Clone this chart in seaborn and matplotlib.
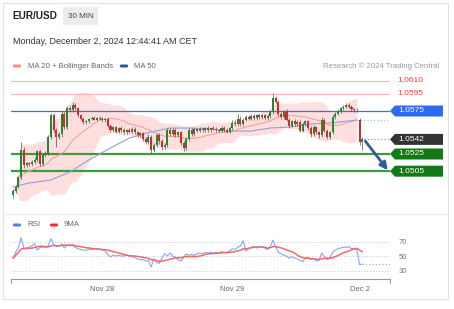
import numpy as np
import pandas as pd
import matplotlib
matplotlib.use("Agg")
import matplotlib.pyplot as plt
import seaborn as sns
from matplotlib.patches import Polygon, Rectangle, FancyBboxPatch
from matplotlib.transforms import blended_transform_factory

# ---------------- data ----------------
symbol = "EUR/USD"
timeframe = "30 MIN"
timestamp = "Monday, December 2, 2024 12:44:41 AM CET"
credit = "Research \u00a9 2024 Trading Central"

first_open = 1.0477
closes = [
    1.0482, 1.0487, 1.0498, 1.0530, 1.0512, 1.0514, 1.0513, 1.0516, 1.0518, 1.0528,
    1.0513, 1.0524, 1.0526, 1.0545, 1.0570, 1.0553, 1.0545, 1.0548, 1.0572, 1.0556,
    1.0578, 1.0576, 1.0582, 1.0578, 1.0570, 1.0566, 1.0562, 1.0563, 1.0566, 1.0567,
    1.0565, 1.0567, 1.0566, 1.0564, 1.0566, 1.0558, 1.0553, 1.0556, 1.0551, 1.0555,
    1.0553, 1.0550, 1.0553, 1.0551, 1.0554, 1.0550, 1.0547, 1.0549, 1.0543, 1.0539,
    1.0545, 1.0530, 1.0535, 1.0547, 1.0540, 1.0533, 1.0535, 1.0553, 1.0548, 1.0553,
    1.0547, 1.0550, 1.0538, 1.0532, 1.0542, 1.0553, 1.0548, 1.0554, 1.0552, 1.0554,
    1.0553, 1.0555, 1.0553, 1.0555, 1.0554, 1.0553, 1.0552, 1.0555, 1.0553, 1.0551,
    1.0555, 1.0561, 1.0560, 1.0566, 1.0560, 1.0565, 1.0568, 1.0566, 1.0569, 1.0567,
    1.0570, 1.0568, 1.0570, 1.0567, 1.0569, 1.0574, 1.0590, 1.0586, 1.0572, 1.0568,
    1.0574, 1.0565, 1.0558, 1.0563, 1.0560, 1.0562, 1.0552, 1.0560, 1.0563, 1.0555,
    1.0548, 1.0556, 1.0550, 1.0547, 1.0565, 1.0552, 1.0545, 1.0550, 1.0568, 1.0572,
    1.0575, 1.0578, 1.0580, 1.0582, 1.0580, 1.0577, 1.0576, 1.0576, 1.0539, 1.0542,
]
gap_opens = {128: 1.0565}
# wick extensions beyond the body, in pips
wick_up = [
    2, 2, 3, 9, 3, 2, 2, 2, 3, 2,  2, 2, 3, 2, 3, 3, 2, 2, 3, 2,
    3, 3, 3, 2, 2, 2, 2, 2, 1, 2,  2, 1, 2, 2, 1, 2, 2, 2, 2, 1,
    2, 2, 1, 2, 2, 2, 2, 2, 2, 2,  3, 2, 3, 2, 2, 2, 3, 2, 2, 2,
    2, 2, 2, 2, 3, 2, 2, 2, 1, 2,  2, 1, 2, 1, 2, 2, 1, 2, 2, 2,
    2, 3, 3, 6, 3, 2, 2, 2, 2, 2,  2, 2, 2, 2, 2, 2, 6, 3, 2, 2,
    2, 3, 2, 2, 3, 2, 3, 2, 2, 2,  2, 3, 2, 2, 3, 2, 2, 2, 2, 2,
    2, 2, 2, 2, 2, 2, 2, 2, 2, 3,
]
wick_dn = [
    3, 2, 2, 2, 3, 2, 2, 2, 3, 2,  2, 2, 2, 2, 3, 2, 12, 2, 3, 2,
    2, 2, 2, 2, 2, 2, 2, 2, 2, 2,  1, 2, 2, 2, 2, 2, 2, 2, 2, 2,
    2, 2, 2, 2, 2, 2, 2, 2, 3, 2,  2, 4, 3, 2, 3, 3, 2, 2, 2, 2,
    2, 2, 2, 3, 2, 2, 2, 2, 2, 2,  2, 2, 2, 2, 1, 2, 2, 2, 2, 2,
    2, 2, 2, 2, 2, 2, 2, 2, 2, 2,  2, 2, 2, 2, 2, 2, 2, 2, 3, 2,
    2, 2, 3, 2, 2, 3, 2, 2, 2, 2,  3, 2, 2, 3, 2, 2, 3, 2, 2, 2,
    2, 2, 2, 2, 2, 2, 2, 2, 3, 9,
]
# MA 50 (it includes history before the first candle)
ma50_idx = [0, 6, 14, 21, 28, 36, 43, 51, 58, 65, 73, 80, 88, 95, 102, 110, 117, 124, 127]
ma50_val = [1.04866, 1.04913, 1.04948, 1.05041, 1.05180, 1.05320, 1.05436, 1.05506,
            1.05552, 1.05552, 1.05541, 1.05517, 1.05517, 1.05552, 1.05564, 1.05599,
            1.05610, 1.05634, 1.05645]
rsi = [
    47, 55, 62, 75, 61, 61, 62, 64, 67, 58,
    62, 62, 63, 64, 74, 66, 63, 64, 66, 61,
    65, 64, 65, 62, 60, 59, 58, 58, 59, 59,
    60, 60, 60, 58, 57, 52, 49, 51, 50, 51,
    50, 50, 51, 50, 49, 48, 46, 45, 45, 43,
    44, 35, 46, 41, 40, 47, 53, 50, 54, 50,
    48, 45, 43, 48, 53, 51, 52, 51, 53, 54,
    53, 55, 54, 55, 54, 55, 54, 56, 55, 55,
    57, 60, 59, 62, 64, 71, 57, 60, 62, 63,
    61, 63, 62, 61, 59, 63, 72, 63, 55, 53,
    51, 50, 47, 49, 47, 46, 44, 42, 48, 48,
    45, 47, 43, 44, 54, 49, 45, 47, 55, 58,
    60, 61, 62, 62, 63, 60, 60, 58, 38, 39,
]
date_ticks = [33, 81, 128]
date_labels = ["Nov 28", "Nov 29", "Dec 2"]
resistance_levels = [1.0610, 1.0595]
pivot_level = 1.0575
last_price = 1.0542
support_levels = [1.0525, 1.0505]
rsi_ticks = [30, 50, 70]

# ---------------- derived ----------------
n = len(closes)
idx = np.arange(n)
opens = [first_open] + closes[:-1]
for k, v in gap_opens.items():
    opens[k] = v
pip = 0.0001
highs = [max(o, c) + u * pip for o, c, u in zip(opens, closes, wick_up)]
lows = [min(o, c) - d * pip for o, c, d in zip(opens, closes, wick_dn)]

s = pd.Series(closes)
ma20 = s.rolling(20, min_periods=1).mean()
sd20 = s.rolling(20, min_periods=2).std(ddof=0).fillna(0)
bb_up = ma20 + 2 * sd20
bb_lo = ma20 - 2 * sd20
rsi_ma = pd.Series(rsi).rolling(9, min_periods=1).mean()
ind_end = n - 2  # indicators drawn up to the candle before the gap

# ---------------- figure ----------------
sns.set_theme(style="white")
plt.rcParams['font.family'] = ['Liberation Sans', 'DejaVu Sans']

W, H = 454, 309
fig = plt.figure(figsize=(W / 100, H / 100), dpi=100)
fig.patch.set_facecolor("white")


def box(x0, y0, x1, y1):
    return [x0 / W, 1 - y1 / H, (x1 - x0) / W, (y1 - y0) / H]


bg = fig.add_axes([0, 0, 1, 1])
bg.set_xlim(0, W)
bg.set_ylim(H, 0)
bg.axis("off")
bg.add_patch(Rectangle((3, 3), 445, 296, fill=False, ec="#e2e2e2", lw=0.8))
bg.plot([3, 448], [214, 214], color="#ececec", lw=0.8)

bg.text(12, 16, symbol, fontsize=7.2, fontweight="bold", color="#222222", va="center")
bg.add_patch(Rectangle((63, 7), 35, 18, fc="#ececec", ec="none"))
bg.text(80.5, 16, timeframe, fontsize=5.8, color="#444444", ha="center", va="center")
bg.text(13, 41, timestamp, fontsize=6.5, color="#333333", va="center")


def legend_mark(x, y, color):
    bg.add_patch(FancyBboxPatch((x, y - 1.5), 8, 3,
                                boxstyle="round,pad=0,rounding_size=1.2",
                                fc=color, ec="none"))


legend_mark(13, 66, "#ff8a8a")
bg.text(28, 66, "MA 20 + Bollinger Bands", fontsize=5.6, color="#666666", va="center")
legend_mark(120, 66, "#2b5797")
bg.text(134, 66, "MA 50", fontsize=5.6, color="#666666", va="center")
bg.text(439, 66, credit, fontsize=5.6, color="#9a9a9a", va="center", ha="right")

legend_mark(13, 225, "#5b7fe0")
bg.text(27, 225, "RSI", fontsize=5.6, color="#666666", va="center")
legend_mark(50, 225, "#ff2a2a")
bg.text(64, 225, "9MA", fontsize=5.6, color="#666666", va="center")

# ---------------- price panel ----------------
xlim = (-0.7386, 139.22)
ax = fig.add_axes(box(11, 75, 390, 200))
ax.set_xlim(*xlim)
ax.set_ylim(1.047151, 1.061686)
ax.axis("off")

ax.fill_between(idx[:ind_end], bb_lo[:ind_end], bb_up[:ind_end],
                color="#ffd9d9", alpha=0.85, lw=0, zorder=1)
sns.lineplot(x=idx[:ind_end], y=ma20[:ind_end], ax=ax, color="#f5a0a0", lw=0.8, zorder=2)
sns.lineplot(x=ma50_idx, y=ma50_val, ax=ax, color="#8ea2d2", lw=0.8, zorder=2)

for r in resistance_levels:
    ax.axhline(r, color="#ffb0b0", lw=0.8, zorder=1)
ax.axhline(pivot_level, color="#3f6fe0", lw=0.9, zorder=1)
for sl in support_levels:
    ax.axhline(sl, color="#3c9c3c", lw=1.6, zorder=1)
ax.plot([ma50_idx[-1], xlim[1]], [ma50_val[-1]] * 2, ls=(0, (1, 2)),
        color="#9fb3e0", lw=0.8, zorder=1)
ax.plot([n - 0.5, xlim[1]], [last_price] * 2, ls=(0, (1, 2)),
        color="#888888", lw=0.8, zorder=1)

up_c, dn_c = "#208a30", "#d42a2a"
ax.vlines(idx, lows, highs, color="#555555", lw=0.5, zorder=3)
for i in range(n):
    o, c = opens[i], closes[i]
    col = up_c if c >= o else dn_c
    h = max(abs(c - o), 0.00006)
    ax.bar(i, h, bottom=min(o, c), width=0.75, color=col, lw=0, zorder=4)

ax.annotate("", xy=(138.4, support_levels[1] + 0.00012),
            xytext=(n + 0.1, last_price - 0.0002),
            arrowprops=dict(arrowstyle="-|>", color="#2f5d9e", lw=2.0,
                            mutation_scale=11, shrinkA=0, shrinkB=0),
            annotation_clip=False, zorder=6)

tr = blended_transform_factory(ax.transAxes, ax.transData)
px_w = 379.0
hh = 5.5 / 8600


def tag(price, fc, text):
    xt, xb, xe = 1.0, 1.0 + 5 / px_w, 1.0 + 53 / px_w
    poly = Polygon([[xt, price], [xb, price + hh], [xe, price + hh],
                    [xe, price - hh], [xb, price - hh]], closed=True,
                   transform=tr, fc=fc, ec="none", clip_on=False, zorder=6)
    ax.add_patch(poly)
    ax.text(1.0 + 8 / px_w, price, text, transform=tr, color="white",
            fontsize=6, va="center", clip_on=False, zorder=7)


for r in resistance_levels:
    ax.text(1.0 + 7 / px_w, r, f"{r:.4f}", transform=tr, color="#ff3b3b",
            fontsize=6, va="center", clip_on=False)
tag(pivot_level, "#2d6cf0", f"{pivot_level:.4f}")
tag(last_price, "#333333", f"{last_price:.4f}")
for sl in support_levels:
    tag(sl, "#117a17", f"{sl:.4f}")

# ---------------- RSI panel ----------------
rx = fig.add_axes(box(11, 232, 390, 279))
rx.set_xlim(*xlim)
rx.set_ylim(18.3, 83.1)
rx.set_facecolor("none")
for t in rsi_ticks:
    rx.axhline(t, ls=(0, (1, 2)), color="#c4c4c4", lw=0.7, zorder=1)
sns.lineplot(x=idx, y=rsi, ax=rx, color="#8aa4f2", lw=0.8, zorder=3)
sns.lineplot(x=idx, y=rsi_ma, ax=rx, color="#f06a6a", lw=1.1, zorder=4)
rx.plot([n - 1, xlim[1]], [rsi[-1]] * 2, ls=(0, (1, 2)), color="#8aa4f2", lw=0.8)

for sp in ["top", "left", "right"]:
    rx.spines[sp].set_visible(False)
rx.spines["bottom"].set_color("#999999")
rx.spines["bottom"].set_linewidth(0.8)
for xe in (0, 1):
    rx.plot([xe, xe], [0, -0.09], transform=rx.transAxes, color="#999999",
            lw=0.8, clip_on=False)
rx.yaxis.tick_right()
rx.set_yticks(rsi_ticks)
rx.tick_params(axis="y", length=0, pad=6, labelsize=5.5, labelcolor="#777777")
rx.set_xticks(date_ticks)
rx.set_xticklabels(date_labels)
rx.tick_params(axis="x", length=0, pad=5, labelsize=5.5, labelcolor="#666666")
rx.set_xlabel("")
rx.set_ylabel("")
rx.grid(False)

fig.savefig("out.png", dpi=100)
